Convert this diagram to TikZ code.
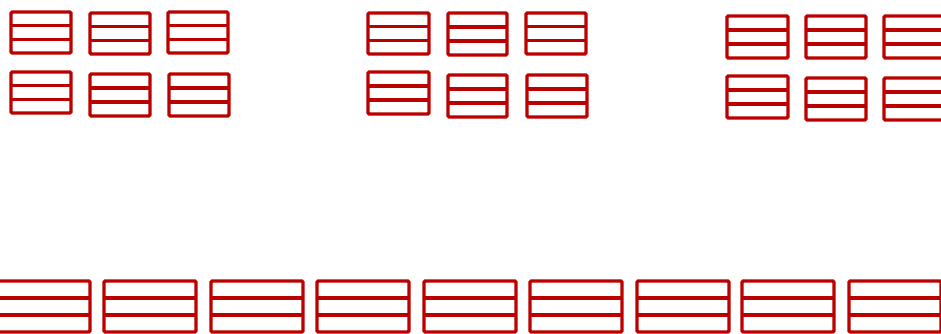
\documentclass[tikz,border=0pt]{standalone}
\definecolor{shelfred}{RGB}{187,0,0}
\tikzset{shelfbox/.style={draw=shelfred,line width=3.4pt,rounded corners=1.2pt},
         shelfdiv/.style={draw=shelfred,line width=3.4pt}}
\newcommand\myshelf[4]{%
  \draw[shelfbox] (#1,#2) rectangle (#3,#4);
  \draw[shelfdiv] (#1,{#2+(#4-#2)/3}) -- (#3,{#2+(#4-#2)/3});
  \draw[shelfdiv] (#1,{#2+2*(#4-#2)/3}) -- (#3,{#2+2*(#4-#2)/3});
}
\begin{document}
\begin{tikzpicture}[x=1pt,y=-1pt]
\useasboundingbox (0,0) rectangle (941,333);
% group 1
\myshelf{11}{12}{71}{53}
\myshelf{90}{13}{150}{54}
\myshelf{168}{12}{228}{53}
\myshelf{11}{72}{71}{113}
\myshelf{90}{74}{150}{116}
\myshelf{169}{74}{229}{116}
% group 2
\myshelf{368}{13}{429}{54}
\myshelf{448}{13}{507}{55}
\myshelf{526}{13}{586}{54}
\myshelf{368}{72}{429}{114}
\myshelf{448}{75}{507}{117}
\myshelf{527}{75}{587}{117}
% group 3
\myshelf{727}{16}{788}{58}
\myshelf{806}{16}{866}{58}
\myshelf{884}{16}{945}{58}
\myshelf{727}{76}{788}{118}
\myshelf{806}{78}{866}{120}
\myshelf{884}{78}{945}{120}
% bottom row
\myshelf{-2}{281}{90}{332}
\myshelf{104}{281}{196}{332}
\myshelf{211}{281}{303}{332}
\myshelf{317}{281}{409}{332}
\myshelf{424}{281}{516}{332}
\myshelf{530}{281}{622}{332}
\myshelf{637}{281}{729}{332}
\myshelf{742}{281}{834}{332}
\myshelf{849}{281}{941}{332}
\end{tikzpicture}
\end{document}
